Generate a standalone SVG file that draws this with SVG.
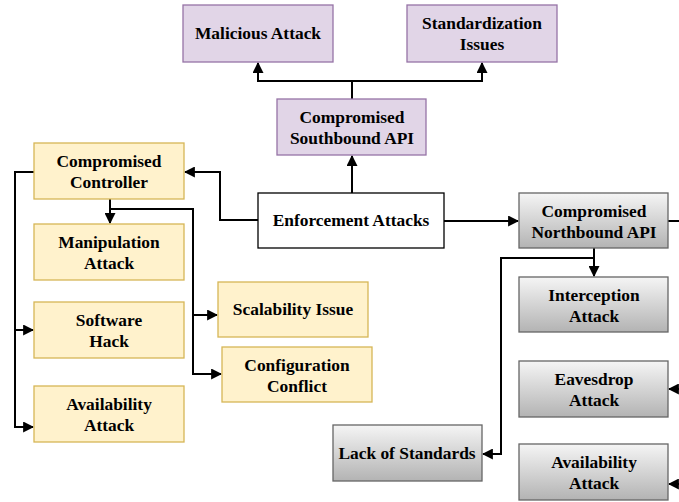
<svg xmlns="http://www.w3.org/2000/svg" width="679" height="502" viewBox="0 0 679 502">
<style>
.p{fill:#e1d5e7;stroke:#9673a6;stroke-width:1.3}
.y{fill:#fff2cc;stroke:#d6b656;stroke-width:1.3}
.g{fill:url(#gg);stroke:#666;stroke-width:1.3}
.w{fill:#fff;stroke:#000;stroke-width:1.3}
text{font-family:"Liberation Serif","Times New Roman",serif;font-weight:bold;font-size:17.4px;text-anchor:middle;fill:#000}
.c{fill:none;stroke:#000;stroke-width:2;marker-end:url(#ah)}
.n{fill:none;stroke:#000;stroke-width:2}
</style>
<defs>
<linearGradient id="gg" x1="0" y1="0" x2="0" y2="1"><stop offset="0" stop-color="#f5f5f5"/><stop offset="1" stop-color="#b3b3b3"/></linearGradient>
<marker id="ah" viewBox="0 0 10 10" refX="9" refY="5" markerWidth="5.5" markerHeight="5.5" orient="auto" markerUnits="strokeWidth"><path d="M0,0L10,5L0,10z" fill="#000"/></marker>
</defs>
<g id="connectors">
<path class="n" d="M352,99V81"/>
<path class="c" d="M352,81H258V63"/>
<path class="c" d="M352,81H482V63"/>
<path class="c" d="M352,193V156"/>
<path class="c" d="M258,220H220V172H185"/>
<path class="c" d="M444,221H518"/>
<path class="n" d="M668,221H679"/>
<path class="c" d="M34,172H15V330H33"/>
<path class="c" d="M15,330V427H33"/>
<path class="c" d="M110,199V223"/>
<path class="c" d="M110,209H193V315H217"/>
<path class="c" d="M193,315V374H221"/>
<path class="c" d="M594,248V276"/>
<path class="c" d="M594,258H501V454H483"/>
<path class="c" d="M679,389H669"/>
<path class="c" d="M679,484H669"/>
</g>
<g id="malicious"><rect class="p" x="183" y="5" width="150" height="57"/><text x="258" y="39">Malicious Attack</text></g>
<g id="standardization"><rect class="p" x="407" y="5" width="150" height="57"/><text x="482" y="29">Standardization</text><text x="482" y="50">Issues</text></g>
<g id="southbound"><rect class="p" x="277" y="99" width="149" height="56"/><text x="352" y="123">Compromised</text><text x="352" y="144">Southbound API</text></g>
<g id="enforcement"><rect class="w" x="258" y="193" width="186" height="55"/><text x="351" y="226">Enforcement Attacks</text></g>
<g id="controller"><rect class="y" x="34" y="143" width="150" height="56"/><text x="109" y="167">Compromised</text><text x="109" y="188">Controller</text></g>
<g id="manipulation"><rect class="y" x="34" y="224" width="150" height="56"/><text x="109" y="248">Manipulation</text><text x="109" y="269">Attack</text></g>
<g id="software"><rect class="y" x="34" y="302" width="150" height="56"/><text x="109" y="326">Software</text><text x="109" y="347">Hack</text></g>
<g id="availability1"><rect class="y" x="34" y="386" width="150" height="56"/><text x="109" y="410">Availability</text><text x="109" y="431">Attack</text></g>
<g id="scalability"><rect class="y" x="218" y="282" width="150" height="55"/><text x="293" y="315">Scalability Issue</text></g>
<g id="configuration"><rect class="y" x="222" y="347" width="150" height="55"/><text x="297" y="371">Configuration</text><text x="297" y="392">Conflict</text></g>
<g id="northbound"><rect class="g" x="519" y="193" width="149" height="55"/><text x="594" y="217">Compromised</text><text x="594" y="238">Northbound API</text></g>
<g id="interception"><rect class="g" x="519" y="277" width="149" height="55"/><text x="594" y="301">Interception</text><text x="594" y="322">Attack</text></g>
<g id="eavesdrop"><rect class="g" x="519" y="361" width="149" height="56"/><text x="594" y="385">Eavesdrop</text><text x="594" y="406">Attack</text></g>
<g id="availability2"><rect class="g" x="519" y="444" width="149" height="56"/><text x="594" y="468">Availability</text><text x="594" y="489">Attack</text></g>
<g id="lack"><rect class="g" x="333" y="425" width="149" height="56"/><text x="407" y="459">Lack of Standards</text></g>
</svg>
